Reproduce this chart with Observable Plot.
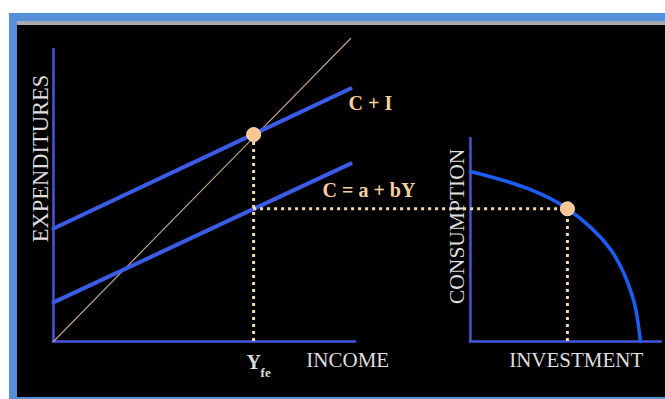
<!DOCTYPE html>
<html>
<head>
<meta charset="utf-8">
<script src="https://cdn.jsdelivr.net/npm/d3@7"></script>
<script src="https://cdn.jsdelivr.net/npm/@observablehq/plot@0.6"></script>
<style>
  html, body { margin: 0; padding: 0; background: #ffffff; width: 665px; height: 399px; overflow: hidden; }
  #frame { position: absolute; left: 9px; top: 13px; width: 660px; height: 386px; background: #5590d8; }
  #band { position: absolute; left: 8px; top: 8px; width: 652px; height: 4px; background: #a9a9b0; }
  #chart { position: absolute; left: 8px; top: 12px; width: 652px; height: 372px; background: #000; }
  #chart svg { display: block; }
</style>
</head>
<body>
<div id="frame"><div id="band"></div><div id="chart"></div></div>
<script>
// ---- data (shared units for expenditure / consumption) ----
const incomeEnds = [0, 101.4];            // income at the two ends of the spending lines
const consumptionLine = [12.9, 58.7];      // C = a + bY at those incomes
const spendingLine = [37.3, 83.5];         // C + I at those incomes
const diagonal = [0, 100];                 // 45° line
const fullEmployment = [68.3];             // Y_fe
const equilibriumSpending = [68.3];        // C + I at Y_fe
const consumptionAtYfe = [43.8];           // C at Y_fe
const leftAxisEnds = [103.5, 96.7];        // [income end, expenditure end]
const investmentOrigin = 142.3;            // where the right diagram's origin sits
const rightAxisEnds = [65.5, 67.3];        // [investment end, consumption end]
const ppfInvestment = [0, 19.5, 33.1, 47.8, 55.3, 58];
const ppfConsumption = [56.1, 50.5, 43.8, 30.4, 14.9, 0];
const investmentAtPoint = [33.1];

const lines = incomeEnds.map((x, i) => ({x, c: consumptionLine[i], ci: spendingLine[i], d: diagonal[i]}));
const ppf = ppfInvestment.map((inv, i) => ({x: investmentOrigin + inv, y: ppfConsumption[i]}));
const ppfPoint = [{x: investmentOrigin + investmentAtPoint[0], y: consumptionAtYfe[0]}];
const eqPoint = [{x: fullEmployment[0], y: equilibriumSpending[0]}];

const serif = "'Liberation Serif', 'Times New Roman', serif";
const axisBlue = "#4656dc";
const lineBlue = "#3a5ce8";
const ppfBlue = "#1a5ef5";
const peach = "#f6cf9f";
const dotted = "#f3d6ac";
const labelGrey = "#dedede";
const xs = 2.93, ys = 3.03;

const plot = Plot.plot({
  width: 652, height: 372, margin: 0,
  x: {domain: [0, 210], range: [36, 36 + 210 * xs], axis: null},
  y: {domain: [0, 100], range: [316, 316 - 100 * ys], axis: null},
  style: {background: "#000", overflow: "visible"},
  marks: [
    // axes
    Plot.ruleX([0], {y1: 0, y2: leftAxisEnds[1], stroke: axisBlue, strokeWidth: 2.5}),
    Plot.ruleY([0], {x1: -0.4, x2: leftAxisEnds[0], stroke: axisBlue, strokeWidth: 2.5}),
    Plot.ruleX([investmentOrigin], {y1: 0, y2: rightAxisEnds[1], stroke: axisBlue, strokeWidth: 2.5}),
    Plot.ruleY([0], {x1: investmentOrigin - 0.4, x2: investmentOrigin + rightAxisEnds[0], stroke: axisBlue, strokeWidth: 2.5}),
    // 45° line
    Plot.line(lines, {x: "x", y: "d", stroke: "#c9ad86", strokeWidth: 1.1}),
    // spending lines
    Plot.line(lines, {x: "x", y: "ci", stroke: lineBlue, strokeWidth: 4}),
    Plot.line(lines, {x: "x", y: "c", stroke: lineBlue, strokeWidth: 4}),
    // PPF
    Plot.line(ppf, {x: "x", y: "y", curve: "catmull-rom", stroke: ppfBlue, strokeWidth: 3.5}),
    // dotted guides
    Plot.ruleX(fullEmployment, {y1: 0, y2: equilibriumSpending[0], stroke: dotted, strokeWidth: 3, strokeDasharray: "3,4"}),
    Plot.ruleY(consumptionAtYfe, {x1: fullEmployment[0], x2: ppfPoint[0].x, stroke: dotted, strokeWidth: 3, strokeDasharray: "3,4"}),
    Plot.ruleX(ppfPoint, {x: "x", y1: 0, y2: "y", stroke: dotted, strokeWidth: 3, strokeDasharray: "3,4"}),
    // points
    Plot.dot(eqPoint, {x: "x", y: "y", r: 7, fill: "#f8c690", stroke: "#fde2bf", strokeWidth: 1}),
    Plot.dot(ppfPoint, {x: "x", y: "y", r: 7, fill: "#f8c690", stroke: "#fde2bf", strokeWidth: 1}),
    // line labels
    Plot.text([lines[1]], {x: "x", y: "ci", text: () => "C + I", textAnchor: "start", lineAnchor: "middle", dx: -2, dy: 15, fill: peach, fontFamily: serif, fontWeight: "bold", fontSize: 20}),
    Plot.text([lines[1]], {x: "x", y: "c", text: () => "C = a + bY", textAnchor: "start", lineAnchor: "middle", dx: -28, dy: 27, fill: peach, fontFamily: serif, fontWeight: "bold", fontSize: 20}),
    // axis titles
    Plot.text([0], {x: 0, y: 60.4, text: () => "EXPENDITURES", rotate: -90, textAnchor: "middle", lineAnchor: "middle", dx: -13, fill: labelGrey, fontFamily: serif, fontSize: 22.5}),
    Plot.text([0], {x: leftAxisEnds[0], y: 0, text: () => "INCOME", textAnchor: "middle", lineAnchor: "middle", dx: -9, dy: 19, fill: labelGrey, fontFamily: serif, fontSize: 21}),
    Plot.text([0], {x: investmentOrigin, y: 38, text: () => "CONSUMPTION", rotate: -90, textAnchor: "middle", lineAnchor: "middle", dx: -13, fill: labelGrey, fontFamily: serif, fontSize: 21.5}),
    Plot.text([0], {x: investmentOrigin + rightAxisEnds[0], y: 0, text: () => "INVESTMENT", textAnchor: "end", lineAnchor: "middle", dx: -19, dy: 19, fill: labelGrey, fontFamily: serif, fontSize: 21}),
    // Y_fe
    Plot.text(fullEmployment, {x: d => d, y: 0, text: () => "Y", textAnchor: "middle", lineAnchor: "middle", dy: 21, fill: labelGrey, fontFamily: serif, fontWeight: "bold", fontSize: 20}),
    Plot.text(fullEmployment, {x: d => d, y: 0, text: () => "fe", textAnchor: "start", lineAnchor: "middle", dx: 7, dy: 31, fill: labelGrey, fontFamily: serif, fontWeight: "bold", fontSize: 13})
  ]
});
document.getElementById("chart").appendChild(plot);
</script>
</body>
</html>
